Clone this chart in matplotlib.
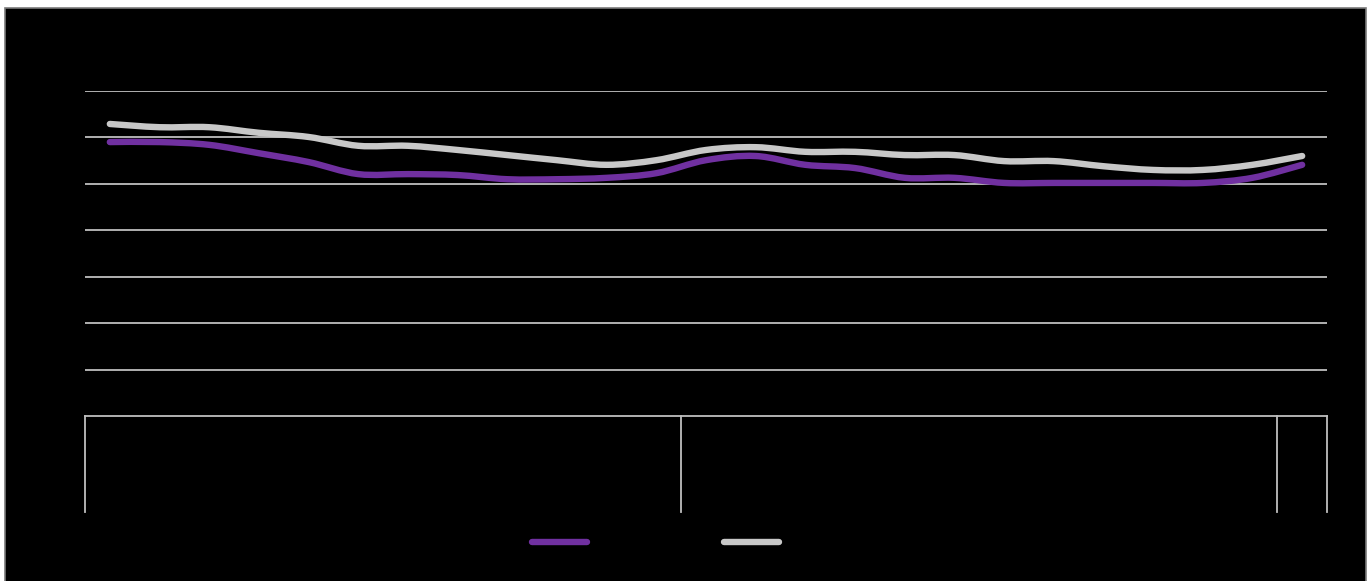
import numpy as np
import matplotlib
matplotlib.use("Agg")
import matplotlib.pyplot as plt
from matplotlib.path import Path
from matplotlib.patches import PathPatch, Rectangle
from matplotlib.lines import Line2D
import matplotlib.transforms as mtransforms

# 25 monthly points, grouped 12 / 12 / 1 on the category axis
months = np.arange(25)
group_sizes = [12, 12, 1]

purple_vals = [59.0, 59.0, 58.4, 56.6, 54.7, 52.1, 52.1, 51.9, 51.0, 51.0,
               51.3, 52.3, 55.1, 56.0, 54.1, 53.4, 51.3, 51.3, 50.2, 50.2,
               50.2, 50.2, 50.2, 51.3, 54.1]
gray_vals = [62.9, 62.2, 62.2, 61.0, 60.1, 58.2, 58.2, 57.3, 56.2, 55.1,
             54.1, 55.1, 57.3, 57.9, 56.9, 56.9, 56.2, 56.2, 54.9, 54.9,
             53.8, 53.0, 53.0, 54.1, 56.0]

PURPLE = "#7030A0"
GRAY = "#C8C8C8"
GRID = "#BFBFBF"


def smooth_path(x, y):
    """Catmull-Rom style bezier path through the points (like Excel smoothed lines)."""
    x = np.asarray(x, float)
    y = np.asarray(y, float)
    verts = [(x[0], y[0])]
    codes = [Path.MOVETO]
    n = len(x)
    for i in range(n - 1):
        p0 = (x[max(i - 1, 0)], y[max(i - 1, 0)])
        p1 = (x[i], y[i])
        p2 = (x[i + 1], y[i + 1])
        p3 = (x[min(i + 2, n - 1)], y[min(i + 2, n - 1)])
        c1 = (p1[0] + (p2[0] - p0[0]) / 6, p1[1] + (p2[1] - p0[1]) / 6)
        c2 = (p2[0] - (p3[0] - p1[0]) / 6, p2[1] - (p3[1] - p1[1]) / 6)
        verts += [c1, c2, p2]
        codes += [Path.CURVE4] * 3
    return Path(verts, codes)


fig = plt.figure(figsize=(13.7, 5.81), dpi=100, facecolor="white")
fig.patches.append(Rectangle((5 / 1370, -0.01), 1361 / 1370, 573 / 581 + 0.01,
                             transform=fig.transFigure, facecolor="black",
                             edgecolor="#7a7a7a", linewidth=1.2, zorder=-10))

ax = fig.add_axes([85 / 1370, 1 - 416 / 581, 1242 / 1370, 325 / 581])
ax.set_facecolor("black")
ax.set_xlim(-0.5, 24.5)
ax.set_ylim(0, 70)
ax.set_yticks(np.arange(10, 71, 10))
ax.yaxis.grid(True, color=GRID, linewidth=1.3)
ax.set_axisbelow(True)
ax.tick_params(left=False, bottom=False, labelleft=False, labelbottom=False)
for s in ["top", "right", "left"]:
    ax.spines[s].set_visible(False)
ax.spines["bottom"].set_color(GRID)
ax.spines["bottom"].set_linewidth(1.3)

for vals, col in [(purple_vals, PURPLE), (gray_vals, GRAY)]:
    ax.add_patch(PathPatch(smooth_path(months, vals), facecolor="none",
                           edgecolor=col, linewidth=4.6, capstyle="round",
                           joinstyle="round", zorder=3))

# multi-level category axis separators
trans = mtransforms.blended_transform_factory(ax.transData, ax.transAxes)
bounds = np.concatenate([[0], np.cumsum(group_sizes)]) - 0.5
for b in bounds:
    ax.plot([b, b], [0, -0.295], transform=trans, color=GRID,
            linewidth=1.3, clip_on=False)

handles = [Line2D([], [], color=PURPLE, linewidth=4.6, solid_capstyle="round"),
           Line2D([], [], color=GRAY, linewidth=4.6, solid_capstyle="round")]
fig.legend(handles, ["", ""], loc="center", bbox_to_anchor=(659 / 1370, 1 - 543 / 581),
           ncol=2, frameon=False, handlelength=4.0, columnspacing=9.3,
           handletextpad=0.5, fontsize=10)

fig.savefig("out.png", dpi=100, facecolor=fig.get_facecolor())
